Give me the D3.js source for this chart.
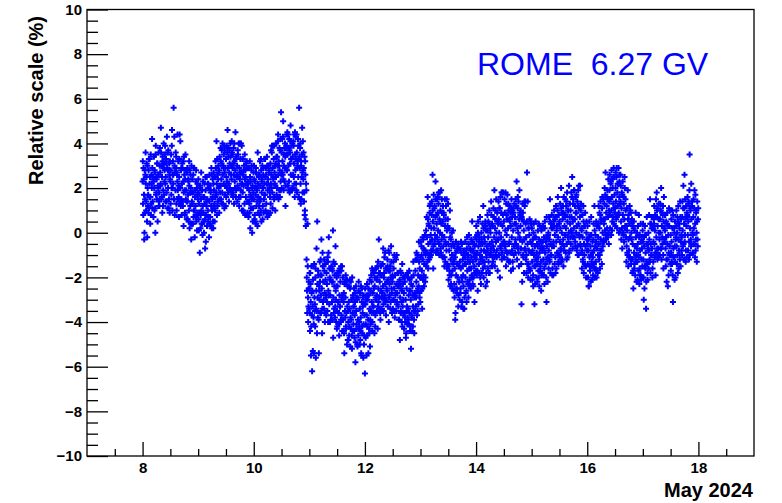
<!DOCTYPE html>
<html>
<head>
<meta charset="utf-8">
<script src="https://cdn.jsdelivr.net/npm/d3@7"></script>
<style>
  html, body { margin: 0; padding: 0; background: #fff; }
  svg { display: block; }
  text { font-family: "Liberation Sans", Arial, Helvetica, sans-serif; }
</style>
</head>
<body>
<svg id="chart" width="782" height="503"></svg>
<script>
// Relative count-rate scale of the ROME station, 8–18 May 2024.
// Each day holds two interleaved series of 12-minute readings:
// dayN at hh:00, hh:12, ... and dayNb six minutes later.
const dayStarts = [8, 9, 10, 11, 12, 13, 14, 15, 16, 17];

const day8 = [
  2.3, 1.3, 2.9, 1.7, 0.0, 0.9, 2.6, 2.2, 1.4, 3.1, -0.2, 2.0,
  1.7, 2.8, 1.1, 2.2, 2.5, 1.6, 0.8, 2.6, 2.0, 2.9, 1.4, 2.4,
  2.3, 2.0, 2.8, 1.1, 3.5, 1.7, 2.5, 1.5, 3.1, 2.1, 2.6, 1.2,
  1.8, 3.0, 2.7, 2.2, 3.6, 1.6, 2.5, 3.2, 1.2, 2.9, 3.1, 2.3,
  3.5, 2.2, 2.5, 3.1, 1.8, 2.9, 3.6, 2.0, 2.8, 1.5, 2.6, 3.2,
  2.3, 2.8, 1.7, 3.9, 2.0, 2.6, 2.2, 5.6, 1.5, 3.0, 2.7, 1.9,
  2.9, 1.3, 2.7, 2.3, 1.9, 3.2, 1.6, 2.5, 4.4, 2.0, 1.4, 2.8,
  1.5, 2.2, 2.9, 1.2, 2.3, 1.8, 2.6, 0.8, 2.4, 2.8, 1.9, 1.4,
  2.7, 1.4, 1.7, 2.3, 1.0, 2.1, 2.8, 1.2, 2.0, -0.3, 1.8, 2.4,
  1.3, 1.8, 0.7, 2.9, 1.0, 1.6, 1.2, 2.3, 0.5, 2.0, 1.7, 0.9
];
const day8b = [
  3.2, 0.8, 2.4, -0.3, 2.8, 1.5, 3.6, 1.0, 2.5, 0.5, 3.0, 1.2,
  0.9, 3.3, 1.6, 3.3, 0.4, 3.5, 1.3, 2.2, 4.2, 1.1, 2.5, 0.7,
  3.4, 1.0, 2.7, 0.0, 3.9, 1.8, 2.4, 3.1, 0.5, 2.0, 3.6, 1.4,
  1.2, 3.8, 2.1, 4.7, 1.5, 3.0, 0.9, 3.4, 1.9, 4.0, 1.7, 2.8,
  3.9, 1.4, 3.3, 1.4, 4.3, 1.1, 2.8, 3.7, 1.1, 3.1, 0.9, 2.4,
  1.3, 3.5, 2.0, 4.6, 1.0, 3.2, 2.6, 1.5, 4.3, 0.8, 2.9, 3.6,
  3.4, 1.0, 2.6, 4.4, 1.5, 2.1, 0.7, 3.3, 1.3, 4.1, 1.2, 2.9,
  0.8, 3.1, 1.4, 3.2, 0.3, 3.4, 1.9, 0.9, 3.5, 1.5, 2.8, 0.6,
  2.9, 0.6, 2.4, 0.5, 3.2, 0.2, 1.8, 2.6, 0.4, 3.0, 1.4, 0.4,
  0.4, 2.6, 1.0, 2.9, -0.2, 1.9, 0.7, 2.8, 0.8, 0.1, 2.2, 1.5
];
const day9 = [
  1.8, 0.6, 1.3, 0.9, 2.1, 0.2, 1.5, 1.0, 1.9, 0.4, 1.2, 1.6,
  0.5, 1.6, 1.3, -0.7, 1.9, 0.8, 1.2, 0.3, 1.5, 1.0, 2.2, 0.7,
  1.4, 2.1, 0.7, 1.8, 1.2, 2.6, 1.0, 1.6, 0.5, 2.2, 1.9, 1.3,
  2.5, 1.6, 2.9, 1.8, 2.2, 3.3, 1.2, 2.4, 2.0, 2.8, 1.5, 2.1,
  2.1, 3.2, 2.4, 3.7, 1.8, 2.6, 3.0, 2.2, 3.9, 2.7, 1.7, 2.9,
  3.3, 2.5, 2.0, 3.6, 2.9, 3.8, 2.2, 2.7, 3.1, 1.9, 3.4, 2.6,
  2.4, 3.6, 2.9, 1.8, 3.1, 2.6, 4.0, 2.3, 2.8, 3.3, 1.9, 2.5,
  3.0, 2.1, 3.5, 2.5, 1.6, 2.9, 2.4, 3.3, 1.9, 2.7, 3.9, 2.2,
  1.8, 2.6, 2.1, 3.0, 1.3, 2.4, 2.8, 1.6, 2.2, 3.2, 1.4, 2.0,
  2.3, 1.4, 1.9, 0.9, 2.5, 1.7, 1.1, 2.8, 1.5, 2.0, 0.5, 1.8
];
const day9b = [
  2.4, 0.1, 1.7, -0.9, 2.0, 0.8, 2.7, 0.4, 1.9, -0.1, 2.3, 0.9,
  0.0, 2.2, 0.6, 2.5, -0.4, 1.4, 2.5, 0.3, 2.2, 0.5, 2.0, -0.2,
  2.6, 0.4, 1.9, 0.3, 2.9, 0.2, 1.5, 2.4, 0.2, 2.7, 1.1, 0.5,
  1.0, 3.2, 1.7, 4.1, 0.8, 2.6, 1.4, 3.0, 2.7, 0.9, 3.4, 1.8,
  3.8, 1.5, 3.1, 1.3, 4.0, 1.3, 2.9, 3.5, 1.1, 3.7, 2.1, 1.2,
  1.6, 3.9, 2.3, 4.6, 1.8, 3.4, 1.4, 3.7, 2.0, 4.0, 1.9, 3.0,
  4.1, 1.7, 3.5, 1.6, 3.8, 1.3, 3.2, 2.0, 4.5, 1.6, 3.4, 2.6,
  1.4, 3.7, 2.0, 4.0, 1.2, 4.0, 2.7, 1.6, 4.0, 2.2, 1.0, 3.3,
  3.3, 1.0, 2.8, 0.9, 3.5, 0.8, 2.5, 3.1, 0.8, 2.9, 0.9, 2.2,
  0.7, 2.9, 1.3, 3.2, 0.2, 2.3, 1.6, 3.0, 0.0, 2.1, 1.1, 2.7
];
const day10 = [
  1.5, 2.4, 0.8, 2.0, 1.7, 2.7, 1.2, 1.9, 0.3, 2.2, 1.6, 2.5,
  2.6, 1.4, 2.1, 1.0, 2.8, 1.8, 2.3, 0.6, 2.0, 2.9, 1.5, 2.2,
  1.7, 2.5, 2.9, 1.3, 2.2, 3.0, 1.9, 2.4, 0.9, 2.7, 2.0, 1.6,
  3.1, 2.2, 2.6, 3.6, 1.8, 2.9, 2.4, 3.3, 1.5, 2.7, 3.0, 2.1,
  2.5, 3.4, 2.0, 3.0, 4.1, 2.6, 3.2, 1.9, 2.8, 3.7, 2.3, 5.4,
  3.6, 2.7, 3.2, 4.3, 2.4, 3.0, 3.8, 2.9, 3.4, 2.1, 3.5, 3.9,
  2.8, 3.5, 4.4, 3.0, 2.3, 3.7, 3.1, 4.1, 2.6, 3.3, 3.9, 2.0,
  3.4, 2.6, 3.9, 3.1, 2.2, 4.5, 2.8, 3.3, 1.9, 3.6, 2.9, 3.2,
  2.5, 3.3, 5.6, 2.9, 3.8, 2.2, 3.0, 1.5, 3.5, 2.7, 4.1, 2.4,
  2.9, 1.8, 0.8, 3.2, 0.6, 2.2, -1.2, -2.6, 0.4, -2.9, -3.3, -2.2
];
const day10b = [
  3.0, 0.6, 2.3, 0.5, 2.9, 0.4, 2.0, 1.4, 3.6, 0.9, 2.6, 1.2,
  0.8, 3.2, 1.5, 3.3, 0.5, 2.4, 3.0, 1.2, 2.6, 0.9, 3.3, 1.7,
  3.3, 1.0, 2.6, 0.9, 3.4, 0.7, 2.2, 3.0, 0.8, 2.8, 1.8, 0.9,
  1.3, 3.7, 2.0, 3.9, 1.1, 3.9, 2.5, 1.6, 3.9, 2.2, 1.0, 3.1,
  4.0, 1.7, 3.4, 1.6, 4.4, 1.5, 3.0, 3.8, 1.6, 4.2, 1.9, 2.6,
  2.0, 4.2, 2.6, 5.0, 1.9, 3.5, 2.3, 4.0, 1.2, 3.8, 2.8, 4.4,
  4.5, 2.1, 3.8, 1.9, 4.2, 1.8, 3.6, 4.8, 1.9, 3.3, 1.9, 4.0,
  2.0, 4.1, 2.5, 4.4, 1.6, 3.5, 4.3, 2.2, 4.4, 1.8, 3.0, 4.2,
  3.9, 1.6, 3.4, 1.5, 4.0, 1.3, 3.2, 2.5, 4.7, 1.8, 2.8, 3.6,
  1.4, 3.4, 1.0, 2.6, 0.3, 1.9, -2.0, -3.6, -1.5, -4.0, -2.5, -3.4
];
const day11 = [
  -2.5, -3.6, -1.8, -3.1, -4.2, -2.7, -6.2, -3.3, -2.1, -3.8, -5.4, -2.9,
  -3.2, -2.0, -5.6, -2.6, -3.5, 0.5, -2.9, -1.7, -3.9, -2.4, -3.0, -2.2,
  -1.9, -2.8, -0.3, -2.5, -3.4, -1.5, -2.2, -3.0, -1.2, -2.7, -3.6, -2.1,
  -2.9, -1.8, -2.3, -3.5, -1.3, -2.6, -0.2, -3.2, -2.0, -2.8, -1.6, -3.7,
  -2.2, -3.1, -1.7, 0.1, -2.9, -3.6, -2.4, -1.4, -3.3, -2.6, -4.0, -2.0,
  -3.5, -2.4, -3.1, -1.9, -4.1, -2.8, -3.3, -2.2, -3.9, -1.7, -3.0, -4.4,
  -2.8, -3.9, -3.1, -4.5, -2.3, -3.5, -2.9, -4.2, -3.6, -2.1, -3.3, -4.8,
  -4.0, -3.1, -4.6, -3.4, -2.5, -3.8, -4.3, -3.0, -5.2, -3.6, -2.8, -4.1,
  -3.3, -4.4, -3.7, -2.7, -4.9, -3.5, -4.1, -3.0, -5.1, -3.9, -2.6, -4.3,
  -4.2, -3.4, -4.8, -3.8, -5.4, -3.1, -4.5, -3.6, -2.9, -4.1, -5.0, -3.7
];
const day11b = [
  -1.8, -4.4, -2.3, -5.5, -1.5, -3.7, -2.6, -5.3, -1.5, -4.1, -1.4, -3.5,
  -4.2, -1.6, -3.4, -0.7, -4.5, -2.3, -3.8, -1.9, -5.4, -2.6, -1.3, -3.6,
  -1.2, -3.6, -1.9, -4.5, -0.9, -3.1, -1.5, -3.4, -1.7, -4.0, -1.4, -2.8,
  -3.7, -1.3, -3.1, -1.1, -4.0, -0.9, -2.8, -1.6, -4.0, -2.1, -3.9, -1.5,
  -1.6, -3.9, -2.2, -4.7, -1.3, -3.4, -1.9, -3.8, -0.6, -3.0, -2.4, -4.3,
  -4.2, -1.8, -3.6, -1.7, -4.6, -1.6, -3.3, -4.0, -1.5, -3.7, -1.5, -2.9,
  -2.0, -4.4, -2.7, -5.4, -2.2, -3.8, -1.9, -4.3, -2.1, -5.0, -2.4, -3.5,
  -4.8, -2.4, -4.2, -2.1, -5.1, -2.2, -3.9, -4.6, -2.0, -4.4, -2.9, -3.3,
  -2.5, -4.7, -3.1, -5.8, -2.4, -4.3, -2.9, -5.0, -2.9, -4.6, -2.2, -4.0,
  -5.0, -2.7, -4.4, -2.4, -5.5, -2.5, -4.2, -3.3, -5.6, -2.8, -4.6, -3.2
];
const day12 = [
  -6.3, -3.2, -4.1, -2.8, -3.7, -4.6, -3.0, -3.9, -2.5, -4.3, -3.4, -5.1,
  -2.6, -3.5, -2.2, -3.1, -4.0, -2.7, -3.3, -1.8, -3.6, -2.4, -4.2, -2.9,
  -3.0, -2.1, -2.8, -1.5, -3.3, -2.5, -0.3, -2.9, -2.2, -3.6, -1.9, -2.6,
  -1.9, -2.7, -1.4, -2.4, -3.2, -2.0, -1.1, -2.8, -2.3, -1.6, -3.0, -2.5,
  -2.6, -1.5, -2.1, -0.8, -2.9, -2.3, -1.7, -3.4, -2.0, -1.3, -2.7, -2.2,
  -2.0, -3.0, -1.6, -2.5, -3.5, -1.9, -2.8, -1.2, -2.3, -3.2, -2.7, -1.8,
  -3.3, -2.4, -3.9, -2.1, -2.9, -3.6, -1.8, -3.1, -2.6, -4.2, -2.3, -3.0,
  -2.7, -3.6, -2.2, -4.0, -3.0, -4.5, -2.5, -3.3, -3.8, -2.0, -3.4, -4.1,
  -3.6, -2.6, -4.2, -3.0, -2.3, -3.7, -4.4, -2.8, -3.3, -1.9, -3.9, -2.9,
  -2.8, -1.7, -3.3, -2.2, -1.2, -2.6, -3.5, -1.9, -2.4, -1.3, -2.9, -2.0
];
const day12b = [
  -2.5, -4.7, -3.0, -5.5, -2.3, -4.2, -2.8, -5.4, -2.8, -4.5, -2.1, -3.9,
  -4.1, -1.9, -3.6, -1.6, -4.4, -1.7, -3.3, -2.5, -4.5, -2.0, -3.7, -1.6,
  -1.6, -3.5, -2.0, -4.3, -1.3, -3.1, -1.8, -3.4, -1.8, -3.9, -1.5, -2.9,
  -3.4, -1.4, -2.9, -0.7, -3.5, -1.8, -3.0, -0.9, -3.1, -3.7, -1.6, -2.2,
  -1.2, -3.3, -1.7, -4.0, -0.9, -2.8, -1.5, -3.1, -0.6, -2.5, -3.6, -1.9,
  -3.4, -1.3, -3.0, -1.0, -3.8, -1.1, -2.7, -3.5, -1.0, -3.1, -1.8, -2.4,
  -1.8, -3.9, -2.2, -4.8, -1.7, -3.5, -2.5, -4.0, -1.4, -3.3, -2.0, -3.7,
  -4.3, -2.0, -3.8, -1.9, -4.7, -1.9, -3.5, -4.1, -1.8, -3.9, -2.8, -1.7,
  -2.1, -4.4, -2.6, -5.2, -2.0, -3.8, -2.4, -4.2, -1.3, -3.5, -4.5, -2.7,
  -3.5, -1.2, -2.9, -0.9, -3.7, -1.0, -2.5, -3.2, -0.4, -2.7, -1.6, -3.1
];
const day13 = [
  -1.1, -2.0, -0.6, -1.7, -2.5, -1.2, -0.3, -1.9, -1.4, -0.8, -2.2, -1.0,
  0.1, -0.9, -0.2, -1.3, 0.6, -0.5, 0.3, -1.0, 1.2, -0.4, -0.1, -0.8,
  0.8, -0.3, 2.6, 0.5, -0.6, 0.2, 1.1, -0.1, 0.7, 1.5, -0.8, 0.4,
  -0.2, 0.9, 0.1, 1.3, -0.5, 0.6, 0.0, 1.0, -0.9, 0.4, 1.5, -0.1,
  0.5, -0.6, 0.9, -0.2, -1.1, 0.3, -0.4, 1.2, -0.8, 0.1, -1.4, 0.6,
  -0.5, -1.5, -0.8, -1.9, -0.2, -1.2, -2.3, -0.6, -1.0, -1.7, 0.1, -1.3,
  -1.2, -2.3, -1.6, -3.9, -0.9, -1.9, -2.5, -1.4, -2.0, -0.7, -2.8, -1.5,
  -2.2, -1.3, -2.7, -1.6, -0.9, -2.0, -3.1, -1.5, -1.9, -2.4, -1.0, -2.9,
  -1.1, -2.0, -1.4, -2.6, -0.7, -1.7, -1.2, -2.3, -0.5, -1.6, -2.1, -1.3,
  -0.8, -1.6, -1.1, -2.0, -0.4, -1.3, -2.4, -0.9, -1.5, -0.6, -1.8, -1.0
];
const day13b = [
  -0.4, -2.6, -1.0, -3.4, -0.2, -2.1, -0.7, -2.4, -0.8, -0.1, -2.0, -0.9,
  -1.5, 0.7, -0.9, 1.6, -1.6, 0.4, -1.2, 0.9, -1.1, 1.3, -1.0, 0.2,
  1.4, -0.8, 1.0, -1.6, 1.7, -0.5, 1.2, -0.3, 2.3, -0.9, 0.8, 1.5,
  -0.8, 1.6, -0.4, 1.8, -1.0, 1.8, 0.5, -0.7, 1.9, -0.3, 0.9, -1.1,
  1.2, -1.1, 0.8, -1.5, 1.5, -1.3, 0.6, -0.5, 1.5, -1.6, 0.3, 1.3,
  -2.1, 0.2, -1.7, 1.0, -2.4, -0.3, -1.9, 0.0, -2.5, -0.5, -1.4, -2.6,
  -0.6, -2.9, -1.1, -3.6, -0.4, -2.5, -0.8, -2.7, -0.5, -3.3, -0.7, -2.2,
  -3.0, -0.7, -2.5, -0.4, -3.3, -0.5, -2.2, -1.2, -3.4, -0.8, -3.4, -1.4,
  -0.4, -2.7, -0.9, -3.1, -0.2, -2.2, -1.0, -2.9, -0.1, -2.4, -1.3, -0.7,
  -2.5, -0.3, -1.9, 0.5, -2.3, -0.8, -2.0, -0.5, -3.1, -1.1, -0.2, -1.7
];
const day14 = [
  -1.2, -0.3, -0.9, -1.7, 0.0, -0.6, -1.4, -0.2, -1.0, -2.0, -0.5, -0.8,
  -0.3, -1.1, -0.5, -1.6, 0.2, -0.8, -1.3, -0.4, 0.5, -0.9, -1.8, -0.6,
  0.1, -0.8, -0.2, -1.3, 0.4, -0.5, -1.0, 0.0, -0.7, 0.8, -0.4, -1.5,
  0.3, -0.6, 0.7, -0.2, -1.1, 0.2, 1.0, -0.4, 0.0, -0.8, 0.5, -0.3,
  -0.3, 0.6, 0.0, 1.1, -0.6, 0.4, -0.2, 1.8, -0.9, 0.3, 0.8, -0.4,
  0.5, -0.4, 0.9, 0.1, -0.8, 1.3, -0.1, 0.6, -1.2, 0.2, 1.0, -0.5,
  -0.4, 0.5, -0.9, 0.3, 1.1, -0.2, 0.7, -1.3, 0.1, 0.9, -0.6, 0.4,
  0.7, -0.3, 0.4, 1.2, -0.6, 0.2, 1.6, 0.0, -0.9, 0.6, -0.2, 0.9,
  0.3, -0.7, -3.2, 0.6, -0.4, 0.9, -1.1, 0.1, -0.3, 1.2, -0.8, 0.4,
  -0.2, -1.0, 2.7, -0.5, -1.4, 0.2, -0.8, -0.1, -1.6, -0.4, 0.5, -0.9
];
const day14b = [
  0.3, -1.9, -0.1, -2.6, 0.5, -1.4, -0.4, -1.8, 0.7, -1.2, -2.3, 0.0,
  -1.8, 0.4, -1.3, 1.2, -2.0, -0.2, -1.5, 0.3, -2.4, 0.1, -1.1, -2.2,
  0.8, -1.6, 0.5, -1.8, 1.0, -1.8, 0.2, -0.9, 1.4, -1.5, 0.4, -1.1,
  -1.3, 1.1, -0.8, 1.9, -1.5, 0.6, -1.0, 1.5, -1.1, 0.9, -1.7, 0.4,
  1.4, -1.0, 1.1, -2.0, 1.6, -0.7, 0.9, -1.2, 1.8, -0.5, 1.8, -1.1,
  -1.1, 1.5, -0.6, 1.8, -1.5, 0.8, -0.9, 1.7, -0.9, 1.3, -1.3, 0.6,
  1.2, -1.3, 0.9, -1.7, 1.5, -0.8, 1.0, -1.6, 1.1, -1.0, 1.3, -0.5,
  -0.9, 1.5, -0.5, 2.3, -1.2, 1.1, -0.7, 1.4, -1.5, 1.9, -0.3, 0.8,
  1.0, -1.4, 0.7, -2.2, 1.3, -1.0, 0.5, -1.8, 1.4, -0.7, 1.4, -1.2,
  -1.8, 0.5, -1.4, 1.4, -2.0, 0.2, -1.6, 0.6, -1.7, -2.1, 0.4, -0.9
];
const day15 = [
  -0.5, -1.3, -0.8, -1.9, 0.0, -1.0, -3.2, -0.6, -1.5, -0.2, -1.2, -0.9,
  -1.4, -0.6, -1.1, -2.0, -0.3, -0.9, -1.7, -0.7, -1.3, 0.1, -1.8, -0.8,
  -0.4, -1.2, -0.7, -1.6, 0.2, -0.9, -1.4, -0.3, -3.1, -0.6, -1.1, -0.2,
  0.0, -0.8, -0.3, -1.3, 0.5, -0.5, -1.0, 0.2, -0.6, -1.6, 0.3, -0.4,
  -0.6, 0.3, -0.1, -1.1, 0.7, -0.4, 0.1, -0.9, 1.0, -0.2, -1.4, 0.4,
  0.5, -0.4, 0.2, -0.8, 1.1, 0.0, -1.2, 0.6, -0.3, 0.9, -0.6, 0.3,
  -0.1, 0.8, 0.2, 1.4, -0.5, 0.5, -0.2, 1.0, 0.0, -0.9, 0.7, 0.4,
  1.0, 0.1, 0.7, 1.6, -0.2, 0.5, 1.3, 0.2, 1.9, 0.6, -0.4, 0.9,
  0.0, 0.9, 0.3, -0.6, 1.2, 0.4, 2.1, -0.1, 0.7, -0.5, 1.0, 0.2,
  0.1, -0.8, -0.2, -1.3, 0.5, -0.5, -1.0, 0.3, -0.6, -1.5, 0.0, -0.3
];
const day15b = [
  0.2, -2.1, -0.3, -2.4, 0.4, -1.5, -0.2, -2.3, 0.5, -1.2, -2.0, -0.5,
  -2.2, 0.1, -1.7, 0.4, -2.4, 0.3, -1.5, -0.4, -2.6, -0.6, -1.9, 0.2,
  0.3, -1.9, -0.2, -2.3, 0.5, -1.4, -0.4, -2.0, 0.7, -1.2, -2.2, -0.1,
  -1.6, 0.7, -1.2, 1.5, -1.8, 0.4, -1.0, 0.8, -1.9, 0.2, -1.9, 0.5,
  1.0, -1.4, 0.6, -1.8, 1.2, -1.6, 0.3, -0.9, 1.6, -1.3, 0.8, -1.0,
  -1.1, 1.3, -0.7, 2.0, -1.3, 0.9, -0.5, 1.2, -1.5, 1.6, -0.8, 0.7,
  1.5, -0.9, 1.2, -1.2, 1.8, -1.1, 1.0, -0.4, 2.1, -0.8, 1.3, -0.2,
  -0.5, 1.8, 0.0, 2.5, -0.7, 1.5, -0.2, 1.9, -0.2, 1.2, -0.6, 1.6,
  1.7, -0.8, 1.4, -1.0, 1.9, -1.0, 1.1, -0.2, 2.1, -0.6, 1.3, -0.9,
  -1.6, 0.8, -1.2, 1.2, -1.8, 0.3, -1.4, 0.9, -1.5, -2.0, 0.5, -0.8
];
const day16 = [
  -0.5, -1.4, -0.8, -2.4, -0.2, -1.1, -1.7, -0.6, -1.0, -0.1, -1.5, -0.9,
  -1.1, -0.3, -0.8, -1.6, 0.1, -0.6, -1.3, -0.4, -2.0, -0.7, 0.3, -1.0,
  0.4, -0.5, 0.2, -1.0, 0.8, -0.3, 0.5, -0.8, 1.1, 0.0, -0.4, 0.6,
  0.4, 1.3, 0.6, 1.7, -0.1, 0.9, 1.2, 0.2, 1.5, 0.7, 0.0, 1.0,
  1.9, 0.8, 1.5, 2.3, 1.0, 1.6, 0.5, 2.0, 1.3, 2.9, 1.1, 1.7,
  1.1, 2.0, 1.4, 2.5, 0.7, 1.8, 1.2, 2.2, 0.9, 1.6, 2.6, 1.3,
  1.4, 0.5, 1.1, 0.2, 1.7, 0.8, -0.1, 1.3, 0.6, 2.0, 0.3, 1.0,
  0.3, -0.6, 0.1, -1.0, 0.6, -0.3, -0.8, 0.4, -0.2, 1.0, -1.2, 0.0,
  -0.3, -1.2, -0.5, -1.7, 0.2, -0.9, -1.4, -0.6, -1.1, -0.2, -1.0, -0.7,
  -1.3, -0.5, -1.0, -1.1, -0.2, -1.6, -0.8, -1.9, -0.4, -1.2, -0.7, -1.5
];
const day16b = [
  0.3, -2.0, -0.3, -2.4, 0.5, -1.5, -0.1, -2.2, 0.7, -1.3, -2.1, -0.4,
  -1.9, 0.4, -1.4, 1.2, -2.0, -0.1, -1.6, 0.5, -1.7, 0.3, -1.8, -0.2,
  1.2, -1.2, 0.9, -1.6, 1.4, -0.8, 0.6, -1.4, 1.6, -0.6, 1.5, -0.3,
  -0.4, 2.0, 0.1, 2.7, -0.3, 1.6, -0.1, 1.9, -0.2, 2.4, -0.5, 1.4,
  2.6, 0.2, 2.2, -0.1, 2.8, 0.1, 2.4, 0.7, 2.5, 0.4, 2.5, 0.9,
  0.3, 2.7, 0.6, 2.9, 0.2, 2.2, 0.8, 2.9, 0.0, 2.3, 0.1, 2.6,
  2.1, -0.3, 1.8, -0.7, 2.3, 0.0, 1.6, -0.4, 2.5, 0.2, 1.5, -0.2,
  -1.3, 1.1, -0.9, 1.9, -1.5, 0.8, -1.1, 1.2, -1.1, 0.9, -1.4, 0.5,
  0.6, -1.8, 0.3, -2.5, 0.5, -1.6, 0.1, -1.9, 0.9, -1.3, -2.2, 0.0,
  -2.1, 0.3, -1.7, 0.8, -2.3, -0.1, -1.9, 0.4, -2.1, -0.2, -2.0, 0.1
];
const day17 = [
  -0.4, -1.2, -3.0, -0.6, -1.5, -0.1, -0.9, -3.4, -1.3, -0.5, -1.8, -0.7,
  0.0, -0.8, -0.3, -1.3, 0.4, -0.5, -1.0, 0.2, -0.7, -1.6, 0.3, -0.4,
  0.4, -0.5, 0.1, -0.9, 0.7, -0.2, 1.8, -0.7, 0.3, -1.1, 0.6, 0.0,
  -0.3, 0.6, 0.0, 1.0, -0.7, 0.3, -0.2, 0.8, -1.0, 0.5, 0.2, -0.4,
  0.1, -0.7, -0.2, -1.2, 0.4, -0.5, -2.4, -0.1, -0.9, 0.3, -0.6, -1.0,
  -0.1, -0.9, -0.4, -1.4, 0.2, -3.1, -0.7, -1.1, 0.0, -0.6, -1.3, -0.3,
  0.3, -0.6, 0.0, -1.0, 0.5, -0.3, -0.8, 0.2, -1.2, 0.7, -0.4, -0.1,
  -0.2, 0.7, 0.1, 1.1, -0.5, 0.4, 2.6, -0.1, 0.6, -0.8, 0.3, 0.9,
  0.8, -0.1, 0.5, 1.4, -0.4, 3.5, 0.2, 1.0, -0.6, 0.6, 1.2, 0.0,
  -0.1, 0.7, 0.2, 1.1, -0.5, 0.4, -0.8, 0.9, 0.0, 0.5, -0.3, 0.6
];
const day17b = [
  0.4, -2.0, -0.2, -2.5, 0.3, -1.6, -0.1, -2.2, 0.7, -1.4, -2.1, -0.5,
  -1.6, 0.8, -1.2, 1.5, -1.8, 0.4, -1.0, 0.7, -2.0, 0.2, -1.3, 0.6,
  1.2, -1.1, 0.8, -1.9, 1.5, -0.9, 1.0, -1.2, 1.1, -0.7, 1.3, -1.0,
  -1.0, 1.3, -0.7, 2.0, -1.2, 0.9, -0.5, 1.2, -1.6, 1.6, -0.3, 0.8,
  0.8, -1.5, 0.5, -2.2, 0.9, -1.2, 0.3, -1.9, 1.1, -1.0, 1.0, -1.4,
  -1.7, 0.6, -1.3, 1.0, -1.9, 0.8, -1.1, 0.2, -2.1, 0.5, -2.0, -0.2,
  1.0, -1.4, 0.7, -1.8, 1.2, -1.6, 0.4, -1.0, 1.4, -1.5, 0.6, -0.8,
  -1.0, 1.4, -0.6, 2.1, -1.2, 1.1, -0.4, 1.5, -1.3, 1.2, -1.1, 0.7,
  1.6, -0.8, 1.3, -1.2, 1.9, -1.0, 1.1, -0.3, 2.2, -0.5, 1.4, -0.9,
  -0.9, 1.5, -0.5, 1.9, -1.1, 1.7, -0.3, 1.0, -1.3, 1.4, -0.6, 1.1
];

const onTheHour = [day8, day9, day10, day11, day12, day13, day14, day15, day16, day17];
const sixMinLater = [day8b, day9b, day10b, day11b, day12b, day13b, day14b, day15b, day16b, day17b];
const samplesPerDay = 120;

const xTickMajor = [8, 10, 12, 14, 16, 18];
const yTickMajor = [-10, -8, -6, -4, -2, 0, 2, 4, 6, 8, 10];
const stationLabel = "ROME  6.27 GV";
const yTitle = "Relative scale (%)";
const xTitle = "May 2024";

// Flatten the per-day series into (day-of-month, value) points
const points = [];
dayStarts.forEach((d0, k) => {
  onTheHour[k].forEach((v, i) => points.push({ t: d0 + i / samplesPerDay, v }));
  sixMinLater[k].forEach((v, i) => points.push({ t: d0 + (i + 0.5) / samplesPerDay, v }));
});
points.sort((a, b) => a.t - b.t);

const frame = { left: 87, right: 754, top: 9.5, bottom: 456 };
const x = d3.scaleLinear().domain([7, 19]).range([frame.left, frame.right]);
const y = d3.scaleLinear().domain([-10, 10]).range([frame.bottom, frame.top]);

const svg = d3.select("#chart");

// Minor ticks every half unit
const xMinor = d3.range(7.5, 19, 0.5).filter(d => !xTickMajor.includes(d));
const yMinor = d3.range(-10, 10.01, 0.5).filter(d => !yTickMajor.includes(d));

const axisStyle = g => {
  g.select(".domain").remove();
  g.selectAll("line").attr("stroke", "#000").attr("stroke-width", 1.3);
  g.selectAll("text")
    .attr("fill", "#000")
    .attr("font-size", 15)
    .attr("font-weight", "bold")
    .attr("font-family", "'Liberation Sans', Arial, sans-serif");
};

svg.append("g")
  .attr("transform", `translate(0,${frame.bottom})`)
  .call(d3.axisBottom(x).tickValues(xMinor).tickSize(-7).tickFormat(""))
  .call(axisStyle);
svg.append("g")
  .attr("transform", `translate(0,${frame.bottom})`)
  .call(d3.axisBottom(x).tickValues(xTickMajor).tickSize(-14).tickPadding(6).tickFormat(d3.format("d")))
  .call(axisStyle);

svg.append("g")
  .attr("transform", `translate(${frame.left},0)`)
  .call(d3.axisLeft(y).tickValues(yMinor).tickSize(-11).tickFormat(""))
  .call(axisStyle);
svg.append("g")
  .attr("transform", `translate(${frame.left},0)`)
  .call(d3.axisLeft(y).tickValues(yTickMajor).tickSize(-21).tickPadding(5).tickFormat(d3.format("d")))
  .call(axisStyle);

// Frame
svg.append("rect")
  .attr("x", frame.left).attr("y", frame.top)
  .attr("width", frame.right - frame.left)
  .attr("height", frame.bottom - frame.top)
  .attr("fill", "none").attr("stroke", "#000").attr("stroke-width", 1.3);

// Data markers: small thick crosses
svg.append("g")
  .selectAll("path")
  .data(points)
  .join("path")
  .attr("transform", d => `translate(${x(d.t)},${y(d.v)})`)
  .attr("d", "M-3,0H3M0,-3V3")
  .attr("stroke", "#0000ff")
  .attr("stroke-width", 2)
  .attr("fill", "none");

// Titles
svg.append("text")
  .attr("transform", `translate(43,16) rotate(-90)`)
  .attr("text-anchor", "end")
  .attr("font-size", 20)
  .attr("font-weight", "bold")
  .text(yTitle);

svg.append("text")
  .attr("x", 753).attr("y", 497)
  .attr("text-anchor", "end")
  .attr("font-size", 20)
  .attr("font-weight", "bold")
  .text(xTitle);

svg.append("text")
  .attr("x", 477).attr("y", 75)
  .attr("font-size", 32)
  .attr("fill", "#0000ff")
  .style("white-space", "pre")
  .text(stationLabel);
</script>
</body>
</html>
